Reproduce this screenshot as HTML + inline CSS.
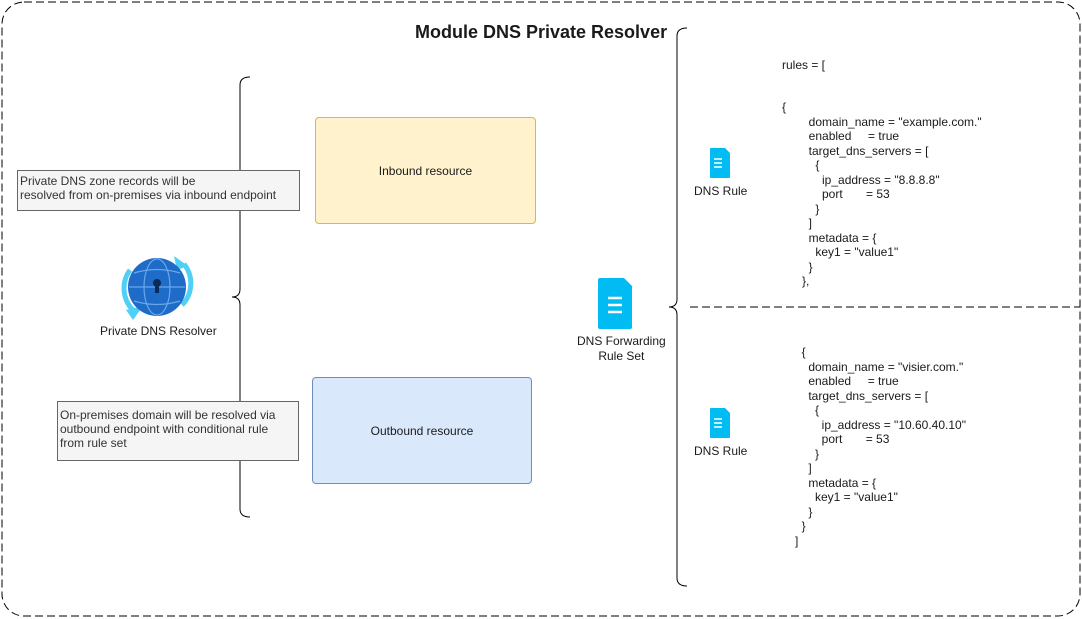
<!DOCTYPE html>
<html><head><style>
body{margin:0;width:1082px;height:619px;background:#fff;font-family:"Liberation Sans",sans-serif;color:#1a1a1a;position:relative;overflow:hidden}
.t{position:absolute;font-size:12px;line-height:14.5px;white-space:pre}
.box{position:absolute;border:1px solid;border-radius:4px;display:flex;align-items:center;justify-content:center;font-size:12px;box-sizing:border-box}
.note{position:absolute;background:#f5f5f5;border:1px solid #666;font-size:12px;line-height:14px;color:#333;padding:3px 2px;box-sizing:border-box;white-space:pre}
</style></head><body>
<svg width="1082" height="619" style="position:absolute;left:0;top:0">
<rect x="2" y="2" width="1078" height="614" rx="22" fill="none" stroke="#000" stroke-dasharray="8 4"/>
<line x1="690" y1="307" x2="1080" y2="307" stroke="#000" stroke-dasharray="8 4"/>
<path d="M250 77 Q240 77 240 85 L240 289 Q240 297 232 297 Q240 297 240 305 L240 509 Q240 517 250 517" fill="none" stroke="#000"/>
<path d="M687 28 Q677 28 677 36 L677 299 Q677 307 669 307 Q677 307 677 315 L677 578 Q677 586 687 586" fill="none" stroke="#000"/>
<!-- globe -->
<path d="M130 270 A31 31 0 0 0 135 312" fill="none" stroke="#50d0f5" stroke-width="5"/>
<path d="M184 264 A31 31 0 0 1 182 305" fill="none" stroke="#50d0f5" stroke-width="5"/>
<polygon points="126,310 143,306 133,320" fill="#50d0f5"/>
<polygon points="174,256 188,266 177,270" fill="#50d0f5"/>
<circle cx="157" cy="287" r="29" fill="#1e6cc8"/>
<ellipse cx="157" cy="287" rx="13" ry="28" fill="none" stroke="#6aa6ea" stroke-width="1.2"/>
<line x1="129" y1="287" x2="185" y2="287" stroke="#6aa6ea" stroke-width="1.2"/>
<path d="M134 273 Q157 266 180 273 M134 301 Q157 308 180 301" fill="none" stroke="#6aa6ea" stroke-width="1.2"/>
<circle cx="157" cy="283" r="4" fill="#0a2a5a"/><rect x="155" y="284" width="4" height="9" fill="#0a2a5a"/>
<!-- doc icons -->
<g fill="#00bcf2"><path d="M600 278 h24 l8 8 v41 q0 2 -2 2 h-30 q-2 0 -2 -2 v-47 q0 -2 2 -2z"/>
<path d="M711 148 h14 l5 5 v24 q0 1 -1 1 h-18 q-1 0 -1 -1 v-28 q0 -1 1 -1z"/>
<path d="M711 408 h14 l5 5 v24 q0 1 -1 1 h-18 q-1 0 -1 -1 v-28 q0 -1 1 -1z"/></g>
<g stroke="#fff" stroke-width="2.5"><line x1="608" y1="298" x2="622" y2="298"/><line x1="608" y1="305" x2="622" y2="305"/><line x1="608" y1="312" x2="622" y2="312"/>
<g stroke-width="1.5"><line x1="714" y1="159" x2="722" y2="159"/><line x1="714" y1="163" x2="722" y2="163"/><line x1="714" y1="167" x2="722" y2="167"/>
<line x1="714" y1="419" x2="722" y2="419"/><line x1="714" y1="423" x2="722" y2="423"/><line x1="714" y1="427" x2="722" y2="427"/></g></g>
</svg>
<div class="t" style="left:415px;top:22px;font-size:18px;line-height:20px;font-weight:bold">Module DNS Private Resolver</div>
<div class="box" style="left:315px;top:117px;width:221px;height:107px;background:#fff2cc;border-color:#d6b656">Inbound resource</div>
<div class="box" style="left:312px;top:377px;width:220px;height:107px;background:#dae8fc;border-color:#6c8ebf">Outbound resource</div>
<div class="note" style="left:17px;top:170px;width:283px;height:41px">Private DNS zone records will be
resolved from on-premises via inbound endpoint</div>
<div class="note" style="left:57px;top:401px;width:242px;height:60px;padding-top:6px">On-premises domain will be resolved via
outbound endpoint with conditional rule
from rule set</div>
<div class="t" style="left:100px;top:324px">Private DNS Resolver</div>
<div class="t" style="left:577px;top:334px;text-align:center">DNS Forwarding
Rule Set</div>
<div class="t" style="left:694px;top:184px">DNS Rule</div>
<div class="t" style="left:694px;top:444px">DNS Rule</div>
<div class="t" style="left:782px;top:58px">rules = [</div>
<div class="t" style="left:782px;top:100px">{
        domain_name = "example.com."
        enabled     = true
        target_dns_servers = [
          {
            ip_address = "8.8.8.8"
            port       = 53
          }
        ]
        metadata = {
          key1 = "value1"
        }
      },</div>
<div class="t" style="left:795px;top:345px">  {
    domain_name = "visier.com."
    enabled     = true
    target_dns_servers = [
      {
        ip_address = "10.60.40.10"
        port       = 53
      }
    ]
    metadata = {
      key1 = "value1"
    }
  }
]</div>
</body></html>
